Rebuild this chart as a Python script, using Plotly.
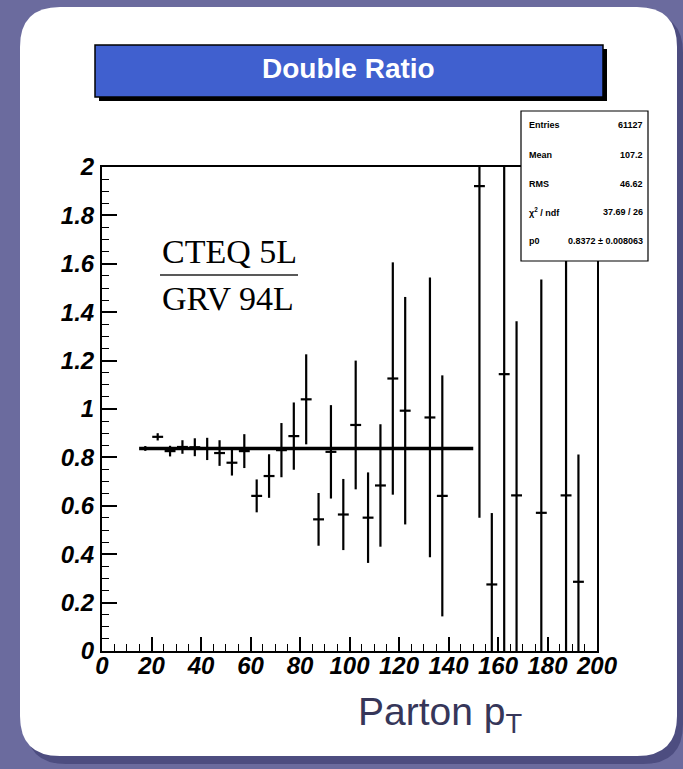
import plotly.graph_objects as go

# ---------------- data ----------------
bin_centers = [17.5, 22.5, 27.5, 32.5, 37.5, 42.5, 47.5, 52.5, 57.5, 62.5,
               67.5, 72.5, 77.5, 82.5, 87.5, 92.5, 97.5, 102.5, 107.5, 112.5,
               117.5, 122.5, 132.5, 137.5, 152.5, 157.5, 162.5, 167.5, 177.5,
               187.5, 192.5]
ratio = [0.837, 0.885, 0.826, 0.843, 0.842, 0.835, 0.818, 0.778, 0.826, 0.641,
         0.723, 0.830, 0.888, 1.040, 0.544, 0.823, 0.564, 0.934, 0.551, 0.684,
         1.126, 0.993, 0.965, 0.641, 1.921, 0.275, 1.144, 0.643, 0.571,
         0.643, 0.286]
ratio_err = [0.010, 0.015, 0.022, 0.028, 0.037, 0.046, 0.053, 0.053, 0.070, 0.068,
             0.090, 0.112, 0.139, 0.186, 0.109, 0.193, 0.147, 0.266, 0.187, 0.253,
             0.480, 0.470, 0.578, 0.498, 1.370, 0.295, 1.400, 0.720, 0.964,
             1.500, 0.526]
bin_half = 2.2
fit_range = [15, 150]
fit_p0 = 0.8372

y_tickvals = [0, 0.2, 0.4, 0.6, 0.8, 1.0, 1.2, 1.4, 1.6, 1.8, 2.0]
y_ticktext = ["0", "0.2", "0.4", "0.6", "0.8", "1", "1.2", "1.4", "1.6", "1.8", "2"]
x_tickvals = [0, 20, 40, 60, 80, 100, 120, 140, 160, 180, 200]
x_ticktext = [str(v) for v in x_tickvals]

stat_labels = ["Entries", "Mean", "RMS", "χ<sup>2</sup> / ndf", "p0"]
stat_values = ["61127", "107.2", "46.62", "37.69 / 26", "0.8372 ± 0.008063"]

# ---------------- layout geometry (pixels) ----------------
W, H = 683, 769
L, R, T, B = 102, 86, 167, 118
PW, PH = W - L - R, H - T - B


def px(x):
    return (x - L) / PW


def py(y):
    return (H - B - y) / PH


def rounded_path(x0, y0, x1, y1, r):
    pts = []
    pts.append(f"M {px(x0 + r)},{py(y0)}")
    pts.append(f"L {px(x1 - r)},{py(y0)}")
    pts.append(f"Q {px(x1)},{py(y0)} {px(x1)},{py(y0 + r)}")
    pts.append(f"L {px(x1)},{py(y1 - r)}")
    pts.append(f"Q {px(x1)},{py(y1)} {px(x1 - r)},{py(y1)}")
    pts.append(f"L {px(x0 + r)},{py(y1)}")
    pts.append(f"Q {px(x0)},{py(y1)} {px(x0)},{py(y1 - r)}")
    pts.append(f"L {px(x0)},{py(y0 + r)}")
    pts.append(f"Q {px(x0)},{py(y0)} {px(x0 + r)},{py(y0)}")
    pts.append("Z")
    return " ".join(pts)


fig = go.Figure()

fig.add_trace(go.Scatter(
    x=bin_centers, y=ratio, mode="markers",
    marker=dict(size=1, color="black"),
    error_y=dict(type="data", array=ratio_err, color="black", thickness=2.2, width=0),
    error_x=dict(type="constant", value=bin_half, color="black", thickness=2.2, width=0),
    showlegend=False, hoverinfo="skip",
))

fig.add_trace(go.Scatter(
    x=fit_range, y=[fit_p0, fit_p0], mode="lines",
    line=dict(color="black", width=3.5),
    showlegend=False, hoverinfo="skip",
))

shapes = []
# slide background: shadow + white rounded panel
shapes.append(dict(type="path", xref="paper", yref="paper",
                   path=rounded_path(26, 13, 683, 764, 40),
                   fillcolor="#4d4d80", line=dict(width=0), layer="below"))
shapes.append(dict(type="path", xref="paper", yref="paper",
                   path=rounded_path(20, 7, 677, 756, 40),
                   fillcolor="white", line=dict(width=0), layer="below"))
# title box shadow + box
shapes.append(dict(type="rect", xref="paper", yref="paper",
                   x0=px(99), x1=px(607), y0=py(49), y1=py(101),
                   fillcolor="black", line=dict(width=0), layer="above"))
shapes.append(dict(type="rect", xref="paper", yref="paper",
                   x0=px(95), x1=px(603), y0=py(45), y1=py(97),
                   fillcolor="#4060cf", line=dict(color="black", width=1.5), layer="above"))
# stat box
shapes.append(dict(type="rect", xref="paper", yref="paper",
                   x0=px(521), x1=px(648), y0=py(111), y1=py(261),
                   fillcolor="white", line=dict(color="black", width=1.2), layer="above"))
# fraction bar
shapes.append(dict(type="line", xref="paper", yref="paper",
                   x0=px(160), x1=px(298), y0=py(275), y1=py(275),
                   line=dict(color="#222222", width=1.5), layer="above"))

annotations = []
annotations.append(dict(text="<b>Double Ratio</b>", xref="paper", yref="paper",
                        x=px(348), y=py(69), xanchor="center", yanchor="middle",
                        showarrow=False,
                        font=dict(family="Liberation Sans, Arial", size=28, color="white")))
stat_rows_y = [125, 155, 184, 212, 241]
for lab, val, yy in zip(stat_labels, stat_values, stat_rows_y):
    annotations.append(dict(text=f"<b>{lab}</b>", xref="paper", yref="paper",
                            x=px(527), y=py(yy), xanchor="left", yanchor="middle",
                            showarrow=False,
                            font=dict(family="Liberation Sans, Arial", size=9, color="black")))
    annotations.append(dict(text=f"<b>{val}</b>", xref="paper", yref="paper",
                            x=px(645), y=py(yy), xanchor="right", yanchor="middle",
                            showarrow=False,
                            font=dict(family="Liberation Sans, Arial", size=9, color="black")))
annotations.append(dict(text="CTEQ 5L", xref="paper", yref="paper",
                        x=px(160), y=py(251), xanchor="left", yanchor="middle",
                        showarrow=False,
                        font=dict(family="Liberation Serif, Times New Roman", size=34, color="black")))
annotations.append(dict(text="GRV 94L", xref="paper", yref="paper",
                        x=px(160), y=py(298), xanchor="left", yanchor="middle",
                        showarrow=False,
                        font=dict(family="Liberation Serif, Times New Roman", size=34, color="black")))
annotations.append(dict(text="Parton p<sub>T</sub>", xref="paper", yref="paper",
                        x=px(356), y=py(714), xanchor="left", yanchor="middle",
                        showarrow=False,
                        font=dict(family="Liberation Sans, Arial", size=39, color="#363659")))

tickfont = dict(family="Liberation Sans, Arial", size=24, color="black",
                weight="bold", style="italic")

fig.update_layout(
    width=W, height=H,
    margin=dict(l=L, r=R, t=T, b=B, pad=0),
    paper_bgcolor="#6b6b9e",
    plot_bgcolor="white",
    shapes=shapes,
    annotations=annotations,
    xaxis=dict(range=[0, 200], tickvals=x_tickvals, ticktext=x_ticktext,
               ticks="inside", ticklen=14, tickwidth=1.5, tickcolor="black",
               minor=dict(dtick=5, ticks="inside", ticklen=7, tickwidth=1.2, tickcolor="black"),
               showline=True, linecolor="black", linewidth=2, mirror=True,
               showgrid=False, zeroline=False, tickfont=tickfont, ticklabelstandoff=-8),
    yaxis=dict(range=[0, 2], tickvals=y_tickvals, ticktext=y_ticktext,
               ticks="inside", ticklen=15, tickwidth=1.5, tickcolor="black",
               minor=dict(dtick=0.05, ticks="inside", ticklen=7, tickwidth=1.2, tickcolor="black"),
               showline=True, linecolor="black", linewidth=2, mirror=True,
               showgrid=False, zeroline=False, tickfont=tickfont, ticklabelstandoff=1),
)

fig.write_html("out.html")
